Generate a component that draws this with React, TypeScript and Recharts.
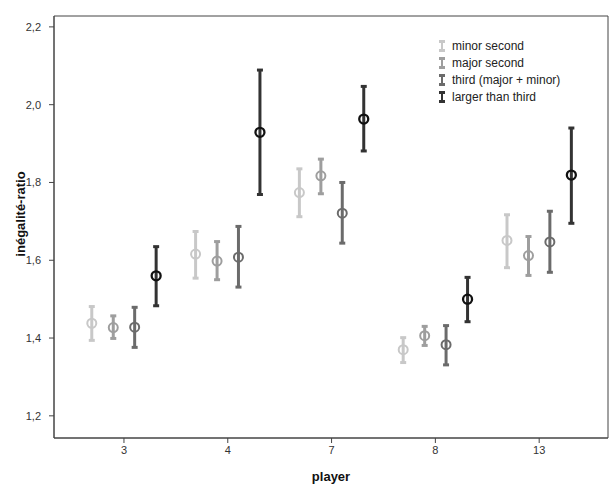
import React from "react";
import {
  ComposedChart,
  Scatter,
  ErrorBar,
  XAxis,
  YAxis,
  ReferenceArea,
  Legend,
} from "recharts";

// players on the x axis
const players = ["3", "4", "7", "8", "13"];
const yTicks = [1.2, 1.4, 1.6, 1.8, 2.0, 2.2];

// interval type (cluster order)
const seriesNames = ["minor second", "major second", "third (major + minor)", "larger than third"];
const clusterOffsets = [-0.31, -0.103, 0.103, 0.31];

const minorMean = [1.438, 1.616, 1.774, 1.37, 1.651];
const minorLow = [1.394, 1.554, 1.712, 1.337, 1.581];
const minorHigh = [1.481, 1.674, 1.835, 1.401, 1.717];

const majorMean = [1.427, 1.598, 1.817, 1.406, 1.612];
const majorLow = [1.399, 1.55, 1.771, 1.381, 1.561];
const majorHigh = [1.457, 1.648, 1.86, 1.43, 1.661];

const thirdMean = [1.428, 1.608, 1.721, 1.383, 1.647];
const thirdLow = [1.376, 1.531, 1.644, 1.331, 1.569];
const thirdHigh = [1.479, 1.687, 1.8, 1.432, 1.726];

const largerMean = [1.56, 1.929, 1.963, 1.5, 1.819];
const largerLow = [1.483, 1.769, 1.881, 1.442, 1.695];
const largerHigh = [1.635, 2.089, 2.047, 1.556, 1.94];

const barColors = ["#c8c8c8", "#9e9e9e", "#6b6b6b", "#333333"];
const ringColors = ["#c8c8c8", "#9e9e9e", "#6b6b6b", "#111111"];

const means = [minorMean, majorMean, thirdMean, largerMean];
const lows = [minorLow, majorLow, thirdLow, largerLow];
const highs = [minorHigh, majorHigh, thirdHigh, largerHigh];

const X_MIN = -0.674;
const X_MAX = 4.663;
const Y_MIN = 1.143;
const Y_MAX = 2.228;

const font = "'Liberation Sans', Arial, sans-serif";

function buildSeries(s: number) {
  return players.map((_, i) => ({
    x: i + clusterOffsets[s],
    y: means[s][i],
    err: [means[s][i] - lows[s][i], highs[s][i] - means[s][i]],
  }));
}

function LegendBox() {
  return (
    <div style={{ fontFamily: font, fontSize: 12, color: "#222" }}>
      {seriesNames.map((name, s) => (
        <div key={name} style={{ display: "flex", alignItems: "center", height: 17.2 }}>
          <svg width={12} height={12} style={{ marginRight: 3 }}>
            <line x1={5} y1={1} x2={5} y2={11} stroke={barColors[s]} strokeWidth={2} />
            <line x1={2} y1={1.5} x2={8} y2={1.5} stroke={barColors[s]} strokeWidth={3} />
            <line x1={2} y1={10.5} x2={8} y2={10.5} stroke={barColors[s]} strokeWidth={3} />
          </svg>
          <span>{name}</span>
        </div>
      ))}
    </div>
  );
}

export default function App() {
  return (
    <div style={{ position: "absolute", left: 0, top: 0, background: "#fff" }}>
      <ComposedChart width={610} height={487} margin={{ top: 16, right: 2, bottom: 0, left: 0 }}>
        <XAxis
          type="number"
          dataKey="x"
          domain={[X_MIN, X_MAX]}
          ticks={[0, 1, 2, 3, 4]}
          tickFormatter={(v: number) => players[v]}
          allowDataOverflow
          height={49}
          tickSize={5}
          tickMargin={3}
          stroke="#444"
          tick={{ fill: "#333", fontSize: 11, fontFamily: font }}
          label={{
            value: "player",
            position: "insideBottom",
            offset: 6,
            style: { fontFamily: font, fontSize: 13, fontWeight: 700, fill: "#111" },
          }}
        />
        <YAxis
          type="number"
          dataKey="y"
          domain={[Y_MIN, Y_MAX]}
          ticks={yTicks}
          allowDataOverflow
          width={54}
          tickSize={5}
          tickMargin={8}
          stroke="#444"
          tickFormatter={(v: number) => v.toFixed(1).replace(".", ",")}
          tick={{ fill: "#333", fontSize: 11, fontFamily: font }}
          label={{
            value: "inégalité-ratio",
            angle: -90,
            position: "center",
            dx: -7,
            dy: -13,
            style: { fontFamily: font, fontSize: 13, fontWeight: 700, fill: "#111", textAnchor: "middle" },
          }}
        />
        <ReferenceArea x1={X_MIN} x2={X_MAX} y1={Y_MIN} y2={Y_MAX} fill="none" stroke="#444" strokeWidth={1} />
        {seriesNames.map((name, s) => (
          <Scatter
            key={name}
            name={name}
            data={buildSeries(s)}
            isAnimationActive={false}
            shape={(p: any) => (
              <circle cx={p.cx} cy={p.cy} r={4.5} fill="none" stroke={ringColors[s]} strokeWidth={s === 3 ? 2.3 : 2} />
            )}
          >
            <ErrorBar
              dataKey="err"
              direction="y"
              width={3}
              stroke={barColors[s]}
              strokeWidth={3}
              isAnimationActive={false}
            />
          </Scatter>
        ))}
        <Legend
          layout="vertical"
          align="center"
          verticalAlign="middle"
          content={() => <LegendBox />}
          wrapperStyle={{ position: "absolute", left: 437, top: 37, width: 160 }}
        />
      </ComposedChart>
    </div>
  );
}
